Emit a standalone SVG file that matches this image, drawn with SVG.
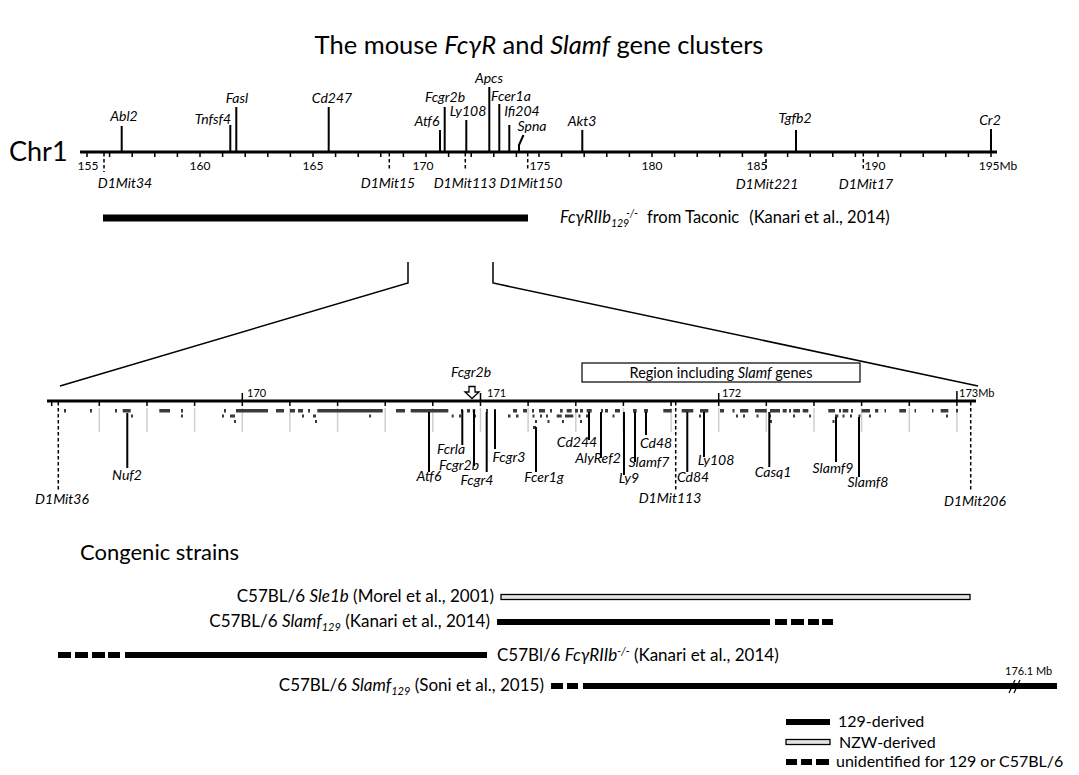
<svg xmlns="http://www.w3.org/2000/svg" width="1079" height="775" viewBox="0 0 1079 775">
<style>
text{font-family:Lato,"Noto Sans","Liberation Sans",sans-serif;fill:#000}
.it{font-style:italic}
.gl{font-size:14px;font-style:italic;text-anchor:middle}
.num{font-size:12px;text-anchor:middle}
.mnum{font-size:11px}
.ln{stroke:#000;stroke-width:2;fill:none}
.dash{stroke:#000;stroke-width:1.5;stroke-dasharray:3.5 2.5;fill:none}
.gray{stroke:#cfcfcf;stroke-width:1.5}
.blk{fill:#3a3a3a}
.strain{font-size:17px}
.bar{stroke:#000;stroke-width:6;fill:none}
.open{fill:#e4e4e4;stroke:#000;stroke-width:1.3}
</style>
<rect width="1079" height="775" fill="#fff"/>

<g id="title">
<text x="539" y="54" font-size="25.5" text-anchor="middle">The mouse <tspan class="it">FcγR</tspan> and <tspan class="it">Slamf</tspan> gene clusters</text>
</g>

<g id="chr1-axis">
<text x="9" y="161" font-size="27">Chr1</text>
<line x1="80" y1="152" x2="997" y2="152" stroke="#000" stroke-width="3.2"/>
<path stroke="#000" stroke-width="1.5" d="M87,152v5M109.6,152v5M132.2,152v5M154.8,152v5M177.4,152v5M200,152v5M222.6,152v5M245.2,152v5M267.8,152v5M290.4,152v5M313,152v5M335.6,152v5M358.2,152v5M380.8,152v5M403.4,152v5M426,152v5M448.6,152v5M471.2,152v5M493.8,152v5M516.4,152v5M539,152v5M561.6,152v5M584.2,152v5M606.8,152v5M629.4,152v5M652,152v5M674.6,152v5M697.2,152v5M719.8,152v5M742.4,152v5M765,152v5M787.6,152v5M810.2,152v5M832.8,152v5M855.4,152v5M878,152v5M900.6,152v5M923.2,152v5M945.8,152v5M968.4,152v5M991,152v5"/>
<text class="num" x="88" y="170">155</text>
<text class="num" x="200" y="170">160</text>
<text class="num" x="313" y="170">165</text>
<text class="num" x="423" y="170">170</text>
<text class="num" x="540" y="170">175</text>
<text class="num" x="652" y="170">180</text>
<text class="num" x="757" y="170">185</text>
<text class="num" x="875" y="170">190</text>
<text class="num" x="998" y="170">195Mb</text>
</g>

<g id="chr1-genes">
<path class="ln" d="M121.7,126V152M230.3,125V152M236.3,107V152M328.7,107V152M440,130V152M444.7,107V152M466.3,120V152M489.3,87V152M499.3,104V152M509.3,125V152M519,152V145L523.5,135M582.3,130V152M796,130V152M991,129V152"/>
<text class="gl" x="124" y="121">Abl2</text>
<text class="gl" x="213" y="124">Tnfsf4</text>
<text class="gl" x="237" y="103">Fasl</text>
<text class="gl" x="332" y="103">Cd247</text>
<text class="gl" x="427" y="126">Atf6</text>
<text class="gl" x="445" y="101.5">Fcgr2b</text>
<text class="gl" x="468" y="116">Ly108</text>
<text class="gl" x="489" y="83">Apcs</text>
<text class="gl" x="511" y="100.5">Fcer1a</text>
<text class="gl" x="522" y="115.5">Ifi204</text>
<text class="gl" x="532" y="131">Spna</text>
<text class="gl" x="582" y="126">Akt3</text>
<text class="gl" x="795" y="123">Tgfb2</text>
<text class="gl" x="990" y="125">Cr2</text>
</g>

<g id="chr1-markers">
<path class="dash" d="M104,153V172M389.3,153V170M465.3,153V170M527.7,153V170M766,153V170M863.3,153V170"/>
<text class="gl" x="125" y="188">D1Mit34</text>
<text class="gl" x="388" y="188">D1Mit15</text>
<text class="gl" x="465" y="188">D1Mit113</text>
<text class="gl" x="531" y="188">D1Mit150</text>
<text class="gl" x="767" y="189">D1Mit221</text>
<text class="gl" x="866" y="189">D1Mit17</text>
</g>

<g id="taconic-interval">
<line x1="103" y1="218" x2="528" y2="218" stroke="#000" stroke-width="7"/>
<text x="560" y="223" font-size="16.5"><tspan class="it">FcγRIIb</tspan><tspan class="it" font-size="10.5" dy="4">129</tspan><tspan class="it" font-size="10.5" dy="-10" dx="-3">-/-</tspan><tspan dy="6" dx="9">from Taconic</tspan><tspan dx="10">(Kanari et al., 2014)</tspan></text>
</g>

<g id="connectors">
<path stroke="#000" stroke-width="1.5" fill="none" d="M408,262V283L60,386M493,262V283L978,386"/>
</g>

<g id="zoom-axis">
<line x1="47" y1="401" x2="976" y2="401" stroke="#000" stroke-width="3.2"/>
<path class="gray" d="M99.3,408V432M147,408V432M194.6,408V432M242.3,408V432M289.9,408V432M337.6,408V432M385.2,408V432M432.8,408V432M480.5,408V432M528.1,408V432M575.8,408V432M623.4,408V432M671.1,408V432M718.7,408V432M766.3,408V432M814,408V432M861.6,408V432M909.3,408V432M956.9,408V432"/>
<path stroke="#000" stroke-width="1.5" d="M51.7,401v5M99.3,401v5M147,401v5M194.6,401v5M242.3,393v13M289.9,401v5M337.6,401v5M385.2,401v5M432.8,401v5M480.5,393v13M528.1,401v5M575.8,401v5M623.4,401v5M671.1,401v5M718.7,393v13M766.3,401v5M814,401v5M861.6,401v5M909.3,401v5M956.9,391v15"/>
<text class="mnum" x="247" y="397">170</text>
<text class="mnum" x="487" y="397">171</text>
<text class="mnum" x="722" y="397">172</text>
<text class="mnum" x="959" y="397">173Mb</text>
</g>

<g id="gene-blocks" class="blk">
<rect x="64" y="409" width="2" height="3.5"/><rect x="90" y="409" width="2" height="3.5"/><rect x="115" y="409" width="2" height="3.5"/><rect x="122.7" y="409" width="8" height="3.5"/><rect x="159.3" y="409" width="10.7" height="3.5"/><rect x="181" y="409" width="2" height="3.5"/><rect x="224" y="409" width="2" height="3.5"/><rect x="236" y="409" width="32" height="3.5"/><rect x="276" y="409" width="8" height="3.5"/><rect x="290" y="409" width="5" height="3.5"/><rect x="298" y="409" width="5" height="3.5"/><rect x="308" y="409" width="2" height="3.5"/><rect x="317.3" y="409" width="65.4" height="3.5"/><rect x="396" y="409" width="9" height="3.5"/><rect x="410.7" y="409" width="37.6" height="3.5"/><rect x="461" y="409" width="2" height="3.5"/><rect x="467" y="409" width="3" height="3.5"/><rect x="472.7" y="409" width="2.5" height="3.5"/><rect x="486" y="409" width="2" height="3.5"/><rect x="494" y="409" width="2" height="3.5"/><rect x="513" y="409" width="4" height="3.5"/><rect x="523" y="409" width="4" height="3.5"/><rect x="532" y="409" width="2" height="3.5"/><rect x="539" y="409" width="6" height="3.5"/><rect x="550" y="409" width="2" height="3.5"/><rect x="560" y="409" width="2.7" height="3.5"/><rect x="566.7" y="409" width="5" height="3.5"/><rect x="575" y="409" width="3" height="3.5"/><rect x="580" y="409" width="3" height="3.5"/><rect x="586.7" y="409" width="5" height="3.5"/><rect x="601" y="409" width="2" height="3.5"/><rect x="605" y="409" width="3" height="3.5"/><rect x="615" y="409" width="5" height="3.5"/><rect x="633" y="409" width="3.7" height="3.5"/><rect x="644" y="409" width="4" height="3.5"/><rect x="663.3" y="409" width="8.4" height="3.5"/><rect x="681.7" y="409" width="11.6" height="3.5"/><rect x="700" y="409" width="8.3" height="3.5"/><rect x="720" y="409" width="4" height="3.5"/><rect x="732.5" y="409" width="2" height="3.5"/><rect x="740" y="409" width="8.3" height="3.5"/><rect x="755" y="409" width="11.7" height="3.5"/><rect x="770" y="409" width="10" height="3.5"/><rect x="782.7" y="409" width="4" height="3.5"/><rect x="789" y="409" width="2" height="3.5"/><rect x="793.3" y="409" width="6.7" height="3.5"/><rect x="802.7" y="409" width="5.6" height="3.5"/><rect x="828.3" y="409" width="6.7" height="3.5"/><rect x="839" y="409" width="2" height="3.5"/><rect x="842.7" y="409" width="5.6" height="3.5"/><rect x="851" y="409" width="2" height="3.5"/><rect x="861.7" y="409" width="8.3" height="3.5"/><rect x="875" y="409" width="3.3" height="3.5"/><rect x="884.5" y="409" width="1.5" height="3.5"/><rect x="899.3" y="409" width="6.7" height="3.5"/><rect x="914.5" y="409" width="1.5" height="3.5"/><rect x="932" y="409" width="1.5" height="3.5"/><rect x="940.7" y="409" width="7.6" height="3.5"/><rect x="956" y="409" width="2" height="3.5"/>
<rect x="131" y="414.5" width="2" height="3"/><rect x="181" y="414.5" width="2" height="3"/><rect x="222" y="414.5" width="2" height="3"/><rect x="230" y="414.5" width="5" height="3"/><rect x="302" y="414.5" width="2" height="3"/><rect x="313" y="414.5" width="3" height="3"/><rect x="369" y="414.5" width="2" height="3"/><rect x="451.7" y="414.5" width="2" height="3"/><rect x="459" y="414.5" width="2" height="3"/><rect x="474" y="414.5" width="2" height="3"/><rect x="508" y="414.5" width="2.5" height="3"/><rect x="516" y="414.5" width="2.5" height="3"/><rect x="532.5" y="414.5" width="2" height="3"/><rect x="540" y="414.5" width="2" height="3"/><rect x="546" y="414.5" width="2" height="3"/><rect x="556.7" y="414.5" width="5" height="3"/><rect x="565" y="414.5" width="8.3" height="3"/><rect x="578.5" y="414.5" width="2" height="3"/><rect x="586" y="414.5" width="2" height="3"/><rect x="612.5" y="414.5" width="2" height="3"/><rect x="699" y="414.5" width="2" height="3"/><rect x="736" y="414.5" width="2" height="3"/><rect x="743" y="414.5" width="2" height="3"/><rect x="756.5" y="414.5" width="2" height="3"/><rect x="769" y="414.5" width="2" height="3"/><rect x="793" y="414.5" width="2" height="3"/><rect x="809" y="414.5" width="2" height="3"/><rect x="835" y="414.5" width="3.3" height="3"/><rect x="842.5" y="414.5" width="2" height="3"/><rect x="850" y="414.5" width="2" height="3"/><rect x="858.5" y="414.5" width="2" height="3"/><rect x="869" y="414.5" width="2" height="3"/><rect x="946" y="414.5" width="2" height="3"/>
<rect x="234" y="420" width="2" height="3"/><rect x="315" y="420" width="2" height="3"/><rect x="535" y="420" width="2" height="3"/><rect x="547.5" y="420" width="2" height="3"/><rect x="562" y="420" width="2" height="3"/><rect x="580" y="420" width="2" height="3"/><rect x="770" y="420" width="2" height="3"/><rect x="832.5" y="420" width="2" height="3"/>
<rect x="533" y="426" width="3" height="3"/>
</g>

<g id="zoom-genes">
<path class="ln" d="M127.3,413V468M429,412V472M462.3,410V445M474,410V466M486.7,412V472M495,410V449M536,427V472M589,412V440M601,412V458M624,412V475M635,412V462M646,412V435M687.3,412V472M704,412V457M769.3,412V467M836,417V462M859,417V477"/>
<path class="dash" d="M58.3,402V491M675.7,402V490M970.7,402V492"/>
<text class="gl" x="127" y="480">Nuf2</text>
<text class="gl" x="62" y="504">D1Mit36</text>
<text class="gl" x="429" y="481">Atf6</text>
<text class="gl" x="451" y="453.5">Fcrla</text>
<text class="gl" x="459" y="470">Fcgr2b</text>
<text class="gl" x="477" y="484.5">Fcgr4</text>
<text class="gl" x="509" y="462">Fcgr3</text>
<text class="gl" x="544" y="482">Fcer1g</text>
<text class="gl" x="577" y="447">Cd244</text>
<text class="gl" x="598" y="463">AlyRef2</text>
<text class="gl" x="629" y="483">Ly9</text>
<text class="gl" x="649" y="467">Slamf7</text>
<text class="gl" x="656" y="448">Cd48</text>
<text class="gl" x="670" y="503">D1Mit113</text>
<text class="gl" x="693" y="482">Cd84</text>
<text class="gl" x="716" y="465">Ly108</text>
<text class="gl" x="773" y="477">Casq1</text>
<text class="gl" x="833" y="473">Slamf9</text>
<text class="gl" x="868" y="487">Slamf8</text>
<text class="gl" x="975" y="506">D1Mit206</text>
</g>

<g id="fcgr2b-arrow">
<text class="gl" x="471" y="377">Fcgr2b</text>
<path d="M469,386.5H475V392H479L472,398.5L465,392H469Z" fill="#fff" stroke="#000" stroke-width="1.3"/>
</g>

<g id="slamf-region">
<rect x="582" y="363" width="278" height="19" fill="#fff" stroke="#000" stroke-width="1.2"/>
<text x="721" y="377.5" font-size="14.5" text-anchor="middle">Region including <tspan class="it">Slamf</tspan> genes</text>
</g>

<g id="congenic">
<text x="80" y="560" font-size="22">Congenic strains</text>

<g id="sle1b">
<text class="strain" x="494" y="602" text-anchor="end">C57BL/6 <tspan class="it">Sle1b</tspan> (Morel et al., 2001)</text>
<rect class="open" x="501" y="594.5" width="469" height="5"/>
</g>

<g id="slamf129-kanari">
<text class="strain" x="490" y="627" text-anchor="end">C57BL/6 <tspan class="it">Slamf</tspan><tspan class="it" font-size="11" dy="4">129</tspan><tspan dy="-4"> (Kanari et al., 2014)</tspan></text>
<path class="bar" d="M497,622H770M775,622H787M791,622H804M808,622H819M822,622H833"/>
</g>

<g id="fcgr2b-kanari">
<path class="bar" d="M58,655H71M75,655H88M92,655H105M108,655H120M125,655H487"/>
<text class="strain" x="497" y="661">C57Bl/6 <tspan class="it">FcγRIIb</tspan><tspan class="it" font-size="11" dy="-6">-/-</tspan><tspan dy="6"> (Kanari et al., 2014)</tspan></text>
</g>

<g id="slamf129-soni">
<text class="strain" x="544" y="691" text-anchor="end">C57BL/6 <tspan class="it">Slamf</tspan><tspan class="it" font-size="11" dy="4">129</tspan><tspan dy="-4"> (Soni et al., 2015)</tspan></text>
<path class="bar" d="M551,686H563M567,686H578M583,686H1057"/>
<text x="1005" y="675" font-size="11">176.1 Mb</text>
<path d="M1009,693L1015,680M1014,693L1020,680" stroke="#000" stroke-width="1.2"/>
</g>
</g>

<g id="legend">
<line x1="786" y1="722" x2="830" y2="722" stroke="#000" stroke-width="6"/>
<text x="838" y="727" font-size="16">129-derived</text>
<rect class="open" x="786" y="739.5" width="44" height="5"/>
<text x="839" y="748" font-size="16">NZW-derived</text>
<path class="bar" d="M786,762H797M801,762H812M816,762H829"/>
<text x="836" y="767" font-size="16">unidentified for 129 or C57BL/6</text>
</g>
</svg>
